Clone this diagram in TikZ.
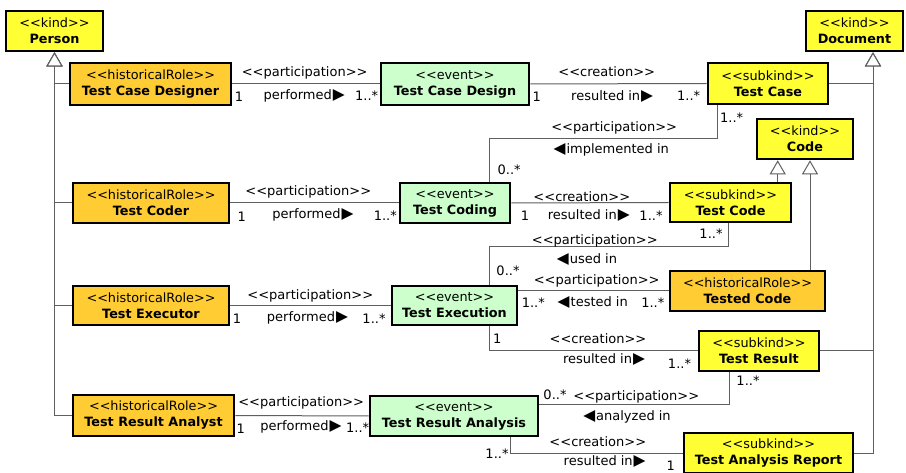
\documentclass[tikz,border=0pt]{standalone}
\usepackage{fontspec}
\setmainfont{DejaVu Sans}
\newfontfamily\umlfont{DejaVu Sans}
\usetikzlibrary{arrows.meta}
\definecolor{kindY}{RGB}{255,255,51}
\definecolor{roleO}{RGB}{255,204,51}
\definecolor{eventG}{RGB}{204,255,204}
\definecolor{lineG}{RGB}{95,95,95}
\newcommand\stereo[1]{<\kern0pt<#1>\kern0pt>}
\newcommand\rtri{\hspace{1pt}{\fontsize{15.5}{15}\selectfont ▶}}
\newcommand\ltri{{\fontsize{15.5}{15}\selectfont ◀}\hspace{1pt}}
\begin{document}
\begin{tikzpicture}[x=1pt,y=-1pt,
  box/.style={draw=black, line width=2.6pt, align=center, inner sep=0pt,
    font=\umlfont\fontsize{12.8}{16}\selectfont},
  kindbox/.style={box, fill=kindY},
  rolebox/.style={box, fill=roleO},
  eventbox/.style={box, fill=eventG},
  lbl/.style={inner sep=0pt, font=\umlfont\fontsize{13}{15}\selectfont},
  assoc/.style={draw=lineG, line width=1pt},
  gen/.style={draw=lineG, line width=1pt,
    -{Triangle[open, length=14pt, width=16pt, fill=white, line width=1pt]}},
]
\useasboundingbox (0,0) rectangle (906,473);
\fill[white] (0,0) rectangle (906,473);

% ---- boxes ----
\node[kindbox, minimum width=97pt, minimum height=40pt] (person) at (54.5,31) {\stereo{kind}\\\textbf{Person}};
\node[kindbox, minimum width=97pt, minimum height=40pt] (document) at (854.5,31) {\stereo{kind}\\\textbf{Document}};
\node[rolebox, minimum width=161pt, minimum height=42pt] (tcd) at (150.5,84) {\stereo{historicalRole}\\\textbf{Test Case Designer}};
\node[eventbox, minimum width=148pt, minimum height=42pt] (tcdes) at (455,84) {\stereo{event}\\\textbf{Test Case Design}};
\node[kindbox, minimum width=120pt, minimum height=41pt] (tcase) at (768,83.5) {\stereo{subkind}\\\textbf{Test Case}};
\node[kindbox, minimum width=96pt, minimum height=40pt] (code) at (805,139) {\stereo{kind}\\\textbf{Code}};
\node[rolebox, minimum width=156pt, minimum height=40pt] (coder) at (151,203) {\stereo{historicalRole}\\\textbf{Test Coder}};
\node[eventbox, minimum width=110pt, minimum height=40pt] (coding) at (455,203) {\stereo{event}\\\textbf{Test Coding}};
\node[kindbox, minimum width=121pt, minimum height=39pt] (tcode) at (730.5,202.5) {\stereo{subkind}\\\textbf{Test Code}};
\node[rolebox, minimum width=155pt, minimum height=40pt] (tested) at (747.5,291) {\stereo{historicalRole}\\\textbf{Tested Code}};
\node[rolebox, minimum width=156pt, minimum height=39pt] (executor) at (151,305.5) {\stereo{historicalRole}\\\textbf{Test Executor}};
\node[eventbox, minimum width=125pt, minimum height=39pt] (execution) at (454.5,305.5) {\stereo{event}\\\textbf{Test Execution}};
\node[kindbox, minimum width=120pt, minimum height=40pt] (result) at (759,351) {\stereo{subkind}\\\textbf{Test Result}};
\node[rolebox, minimum width=161pt, minimum height=41pt] (analyst) at (153.5,415.5) {\stereo{historicalRole}\\\textbf{Test Result Analyst}};
\node[eventbox, minimum width=168pt, minimum height=40pt] (analysis) at (454,416) {\stereo{event}\\\textbf{Test Result Analysis}};
\node[kindbox, minimum width=169pt, minimum height=40pt] (report) at (768.5,453) {\stereo{subkind}\\\textbf{Test Analysis Report}};

% ---- generalizations ----
\draw[gen] (tcd.west) -| (person.south);
\draw[gen] (coder.west) -| (person.south);
\draw[gen] (executor.west) -| (person.south);
\draw[gen] (analyst.west) -| (person.south);
\draw[gen] (tcase.east) -| ([xshift=18.5pt]document.south);
\draw[gen] (result.east) -| ([xshift=18.5pt]document.south);
\draw[gen] (report.east) -| ([xshift=18.5pt]document.south);
\draw[gen] ([xshift=47.2pt]tcode.north) -- ([xshift=-27.3pt]code.south);
\draw[gen] ([xshift=62.5pt]tested.north) -- ([xshift=5pt]code.south);

% ---- associations ----
\draw[assoc] (tcd.east) -- (tcdes.west);
\draw[assoc] (tcdes.east) -- (tcase.west);
\draw[assoc] (coder.east) -- (coding.west);
\draw[assoc] (coding.east) -- (tcode.west);
\draw[assoc] (executor.east) -- (execution.west);
\draw[assoc] (execution.east |- tested.west) -- (tested.west);
\draw[assoc] (analyst.east) -- (analysis.west);
\draw[assoc] ([xshift=-51pt]tcase.south) -- ++(0,33.3) -| ([xshift=34.3pt]coding.north);
\draw[assoc] ([xshift=-2.2pt]tcode.south) -- ++(0,23.7) -| ([xshift=34.8pt]execution.north);
\draw[assoc] ([xshift=34.8pt]execution.south) |- (result.west);
\draw[assoc] ([xshift=-29.7pt]result.south) |- ([yshift=11.7pt]analysis.east);
\draw[assoc] ([xshift=56pt]analysis.south) |- (report.west);

% ---- labels: row 1 ----
\node[lbl] (a1s) at (304.7,72.7) {\stereo{participation}};
\node[lbl] (a1m1) at (239,96.5) {1};
\node[lbl] (a1n) at (304.2,96) {performed\rtri};
\node[lbl] (a1m2) at (366.7,96) {1..*};
\node[lbl] (a2s) at (606.7,72) {\stereo{creation}};
\node[lbl] (a2m1) at (536.7,96.5) {1};
\node[lbl] (a2n) at (612.2,96) {resulted in\rtri};
\node[lbl] (a2m2) at (688.7,96) {1..*};
% implemented in
\node[lbl] (a3m1) at (731.7,117.3) {1..*};
\node[lbl] (a3s) at (614.2,128.3) {\stereo{participation}};
\node[lbl] (a3n) at (611.3,150) {\ltri implemented in};
\node[lbl] (a3m2) at (509.2,169.3) {0..*};
% row 2
\node[lbl] (a4s) at (308.3,191.7) {\stereo{participation}};
\node[lbl] (a4m1) at (241.7,217) {1};
\node[lbl] (a4n) at (313,215) {performed\rtri};
\node[lbl] (a4m2) at (385.3,216) {1..*};
\node[lbl] (a5s) at (581.8,196.7) {\stereo{creation}};
\node[lbl] (a5m1) at (525,216) {1};
\node[lbl] (a5n) at (588.8,215.7) {resulted in\rtri};
\node[lbl] (a5m2) at (651,215.7) {1..*};
% used in
\node[lbl] (a6m1) at (711,233.3) {1..*};
\node[lbl] (a6s) at (594.8,240.7) {\stereo{participation}};
\node[lbl] (a6n) at (587,259) {\ltri used in};
\node[lbl] (a6m2) at (508,271) {0..*};
% tested in
\node[lbl] (a7s) at (596.7,281) {\stereo{participation}};
\node[lbl] (a7m1) at (533.3,302.3) {1..*};
\node[lbl] (a7n) at (592.8,302.3) {\ltri tested in};
\node[lbl] (a7m2) at (652.8,302.3) {1..*};
% row 3
\node[lbl] (a8s) at (310.3,295.5) {\stereo{participation}};
\node[lbl] (a8m1) at (237,319) {1};
\node[lbl] (a8n) at (307.5,318) {performed\rtri};
\node[lbl] (a8m2) at (374,318.5) {1..*};
\node[lbl] (a9m1) at (497.3,339) {1};
\node[lbl] (a9s) at (598,339) {\stereo{creation}};
\node[lbl] (a9n) at (604,359) {resulted in\rtri};
\node[lbl] (a9m2) at (679.5,363.3) {1..*};
% analyzed in
\node[lbl] (a10m1) at (748,380.7) {1..*};
\node[lbl] (a10m2) at (555,395) {0..*};
\node[lbl] (a10s) at (636.3,397.3) {\stereo{participation}};
\node[lbl] (a10n) at (627,416.7) {\ltri analyzed in};
% row 4
\node[lbl] (a11s) at (301.2,403.3) {\stereo{participation}};
\node[lbl] (a11m1) at (240.7,428.3) {1};
\node[lbl] (a11n) at (301,426.7) {performed\rtri};
\node[lbl] (a11m2) at (357.7,428) {1..*};
\node[lbl] (a12m1) at (497,453.3) {1..*};
\node[lbl] (a12s) at (597.8,441.7) {\stereo{creation}};
\node[lbl] (a12n) at (604.7,461.7) {resulted in\rtri};
\node[lbl] (a12m2) at (670.7,465.7) {1};
\end{tikzpicture}
\end{document}
